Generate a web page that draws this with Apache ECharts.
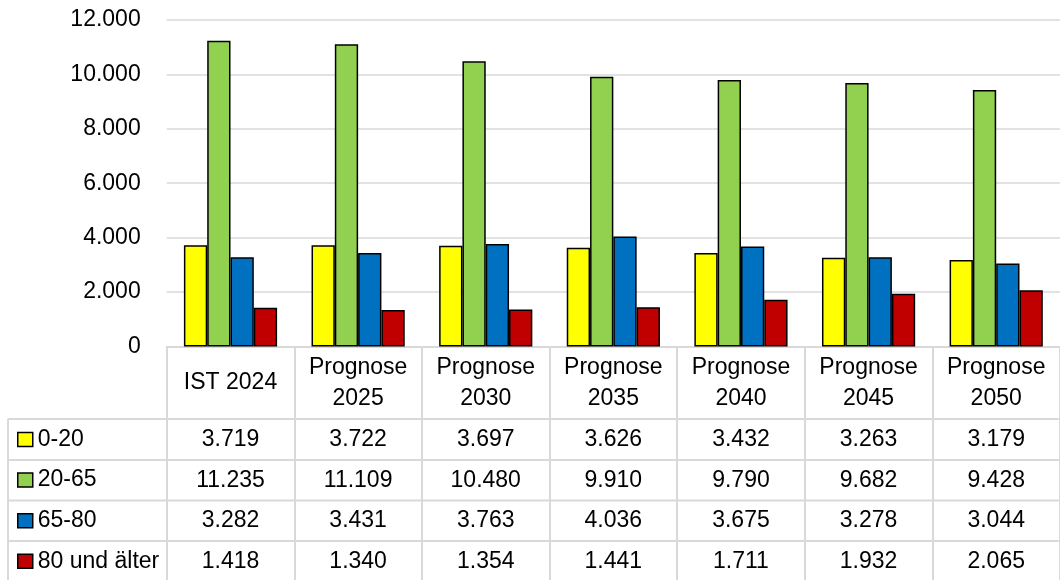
<!DOCTYPE html>
<html>
<head>
<meta charset="utf-8">
<script src="https://cdn.jsdelivr.net/npm/echarts@6/dist/echarts.min.js"></script>
<style>
  html, body { margin: 0; padding: 0; background: #fff; }
  #main { width: 1060px; height: 580px; }
</style>
</head>
<body>
<div id="main"></div>
<script>
// Kategorien und Werte
const categories = ['IST 2024', 'Prognose\n2025', 'Prognose\n2030', 'Prognose\n2035', 'Prognose\n2040', 'Prognose\n2045', 'Prognose\n2050']
const seriesNames = ['0-20', '20-65', '65-80', '80 und älter']
const age0to20 = [3719, 3722, 3697, 3626, 3432, 3263, 3179]
const age20to65 = [11235, 11109, 10480, 9910, 9790, 9682, 9428]
const age65to80 = [3282, 3431, 3763, 4036, 3675, 3278, 3044]
const age80plus = [1418, 1340, 1354, 1441, 1711, 1932, 2065]
const yTicks = [0, 2000, 4000, 6000, 8000, 10000, 12000]

const allValues = [age0to20, age20to65, age65to80, age80plus]
const colors = ['#FFFF00', '#92D050', '#0070C0', '#C00000']

const FONT = '"Liberation Sans", Arial, sans-serif'
const FS = 23
const LINE = '#d9d9d9'

// Tausenderpunkt
function fmt(v) {
  return String(v).replace(/\B(?=(\d{3})+(?!\d))/g, '.')
}

// Layout (Pixel)
const gridLeft = 166.7
const gridTop = 20
const gridHeight = 326.4
const gridWidth = 902
const axisY = gridTop + gridHeight
const rowLines = [419, 460, 500.6, 541, 581.5]

const myChart = echarts.init(document.getElementById('main'), null, { renderer: 'canvas' })

// Tabellenzeilen als zusätzliche x-Achsen
const tableAxes = allValues.map((vals, i) => {
  const center = (rowLines[i] + rowLines[i + 1]) / 2
  return {
    type: 'category',
    gridIndex: 0,
    position: 'bottom',
    offset: center - axisY,
    data: vals.map(fmt),
    axisLine: { show: false },
    axisTick: { show: false },
    axisLabel: {
      margin: 0,
      verticalAlign: 'middle',
      color: '#000',
      fontFamily: FONT,
      fontSize: FS,
      interval: 0,
    },
  }
})

// horizontale Tabellenlinien + linke Kante
const graphics = []
rowLines.forEach((y) => {
  graphics.push({
    type: 'line',
    shape: { x1: 8, y1: y, x2: 1070, y2: y },
    style: { stroke: LINE, lineWidth: 2 },
    silent: true,
  })
})
graphics.push({
  type: 'line',
  shape: { x1: 8, y1: rowLines[0], x2: 8, y2: 582 },
  style: { stroke: LINE, lineWidth: 2 },
  silent: true,
})

myChart.setOption({
  animation: false,
  textStyle: { fontFamily: FONT },
  legend: {
    orient: 'vertical',
    left: 17,
    top: rowLines[0] + 5.5,
    padding: 0,
    icon: 'rect',
    itemWidth: 15,
    itemHeight: 14,
    itemGap: 10.6,
    itemStyle: { borderColor: '#000', borderWidth: 1.5 },
    textStyle: { fontSize: FS, color: '#000', lineHeight: 30, fontFamily: FONT },
    data: seriesNames,
  },
  grid: {
    left: gridLeft,
    top: gridTop,
    width: gridWidth,
    height: gridHeight,
  },
  graphic: graphics,
  xAxis: [
    {
      type: 'category',
      data: categories,
      axisLine: { lineStyle: { color: LINE, width: 2 } },
      axisTick: {
        show: true,
        length: 240,
        lineStyle: { color: LINE, width: 2 },
      },
      axisLabel: {
        margin: 36.6,
        verticalAlign: 'middle',
        color: '#000',
        fontFamily: FONT,
        fontSize: FS,
        lineHeight: 31,
        interval: 0,
      },
    },
  ].concat(tableAxes),
  yAxis: {
    type: 'value',
    min: yTicks[0],
    max: yTicks[yTicks.length - 1],
    interval: 2000,
    axisLine: { show: false },
    axisTick: { show: false },
    splitLine: { lineStyle: { color: LINE, width: 1.5 } },
    axisLabel: {
      margin: 26,
      color: '#000',
      fontFamily: FONT,
      fontSize: FS,
      formatter: (v) => fmt(v),
    },
  },
  series: allValues.map((vals, i) => ({
    name: seriesNames[i],
    type: 'bar',
    barWidth: 23.3,
    barGap: '0%',
    data: vals,
    itemStyle: {
      color: colors[i],
      borderColor: '#000',
      borderWidth: 1.5,
    },
  })),
})
</script>
</body>
</html>
